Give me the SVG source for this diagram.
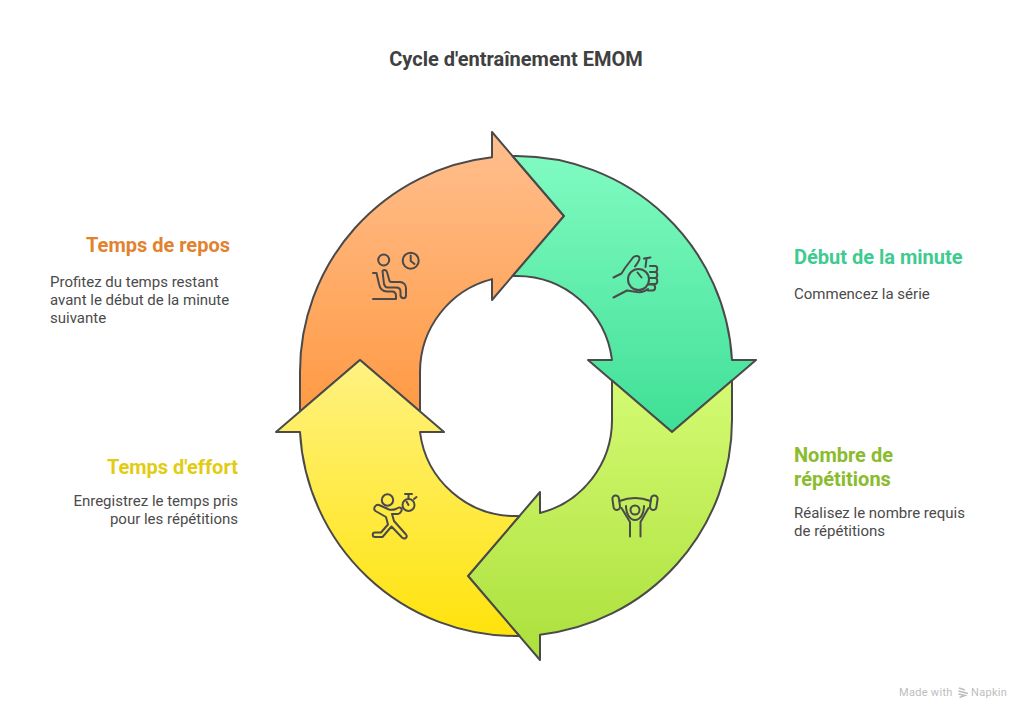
<svg xmlns="http://www.w3.org/2000/svg" width="1032" height="721" viewBox="0 0 1032 721">
<style>
text{font-family:Roboto,"Liberation Sans",sans-serif}
.t{font-size:20px;font-weight:700}
.b{font-size:15px;fill:#4b4b4b}
.s{stroke:#4a4a4a;stroke-width:2;stroke-linejoin:round}
.i{fill:none;stroke:#4a4a4a;stroke-width:2;stroke-linecap:round;stroke-linejoin:round}
.e{text-anchor:end}
</style>
<defs>
<linearGradient id="go" x1="0" y1="0" x2="0" y2="1"><stop offset="0" stop-color="#FFBF8F"/><stop offset="1" stop-color="#FF9A44"/></linearGradient>
<linearGradient id="gt" x1="0" y1="0" x2="0" y2="1"><stop offset="0" stop-color="#80FBC1"/><stop offset="1" stop-color="#3FDF96"/></linearGradient>
<linearGradient id="gl" x1="0" y1="0" x2="0" y2="1"><stop offset="0" stop-color="#D4FA72"/><stop offset="1" stop-color="#ABE03C"/></linearGradient>
<linearGradient id="gy" x1="0" y1="0" x2="0" y2="1"><stop offset="0" stop-color="#FFF282"/><stop offset="1" stop-color="#FFE30C"/></linearGradient>
</defs>
<rect width="1032" height="721" fill="#fff"/>
<text x="516" y="66" text-anchor="middle" class="t" fill="#404040">Cycle d'entraînement EMOM</text>

<g id="node-repos">
<path class="s" fill="url(#go)" d="M300 411.4V372A216 216 0 0 1 492 157.3V132L564 216L492 300V279.1A96 96 0 0 0 420 372V411.4L360 360Z"/>
<g class="i">
<circle cx="383.7" cy="260" r="5.5"/><circle cx="410.7" cy="260.7" r="8"/><path d="M410.7 255.5V261L414.5 264"/>
<path d="M373 273H376.5L379 284C380 289 383 291.500 387 291.500H392C395 291.500 396 293.500 396 296V299H373"/>
<path d="M382.500 271C384 269.500 386.500 270 387 272L389.500 281C390 282 391 282 392 282H400C403.500 282 406 285 406 288V295.500C406 299 401 299 400.500 295.500V291.500C400.500 289 399 287.500 396 287.500H388C385.500 287.500 384.500 286 384 284Z"/>
</g>
<text x="230" y="252" class="t e" fill="#E2822F">Temps de repos</text>
<text class="b" x="50" y="287">Profitez du temps restant</text>
<text class="b" x="50" y="305">avant le début de la minute</text>
<text class="b" x="50" y="323">suivante</text>
</g>

<g id="node-debut">
<path class="s" fill="url(#gt)" d="M512.600 156L564 216L512.600 276L516 276A96 96 0 0 1 612 360H588L672 432L756 360H732A216 216 0 0 0 516 156Z"/>
<g class="i">
<circle cx="638.500" cy="279.500" r="10.500"/><path d="M637.500 272.500L641.500 277.500M646.500 259L645.500 267M644 258.500L650.500 257.500"/>
<path d="M613.500 277.500L621.500 273.500L625 268L633 257.500C635 255.500 639 255.500 639.500 258C640 260 637.500 263 635 266.500"/>
<path d="M613.500 297.500L627 290.500L637 292C641 292.500 645 291.500 648 289"/>
<path d="M650 266H655C658 266 658 272 655 272H650M650 272H655C658 272 658 278 655 278H650M650 278H655C658 278 658 284 655 284H650M648 284.500H652.500C656 284.500 656 290.500 652.500 290.500H648"/>
</g>
<text x="794" y="264" class="t" fill="#3ECB8F">Début de la minute</text>
<text class="b" x="794" y="299">Commencez la série</text>
</g>

<g id="node-repetitions">
<path class="s" fill="url(#gl)" d="M612 380.600V420A96 96 0 0 1 540 513V492L468 576L540 660V634.700A216 216 0 0 0 732 420V380.600L672 432Z"/>
<g class="i">
<rect x="613" y="495.500" width="6.500" height="14.500" rx="3.200" transform="rotate(-8 616 503)"/><rect x="650.500" y="495.500" width="6.500" height="14.500" rx="3.200" transform="rotate(8 654 503)"/>
<path d="M619.500 501Q635 495 650.500 501"/><circle cx="635" cy="510" r="4.500"/>
<path d="M626 506C626 514 630 520 635 520C640 520 644 514 644 506"/>
<path d="M621.500 508L630 522V536.500M648.500 508L640.500 522V536.500"/>
</g>
<text x="794" y="462" class="t" fill="#8ABC2D">Nombre de</text>
<text x="794" y="486" class="t" fill="#8ABC2D">répétitions</text>
<text class="b" x="794" y="518">Réalisez le nombre requis</text>
<text class="b" x="794" y="536">de répétitions</text>
</g>

<g id="node-effort">
<path class="s" fill="url(#gy)" d="M276 432L360 360L444 432H420A96 96 0 0 0 516 516H519.400L468 576L519.400 636H516A216 216 0 0 1 300 432Z"/>
<g class="i">
<circle cx="387.500" cy="500" r="5.700"/><circle cx="408.500" cy="505" r="6"/>
<path d="M408.500 499V494.500M405 494H412M414 499L416.500 497M408.500 505L406.500 501.500"/>
<path d="M376 505.500C374 507 373.500 509.500 375.500 511L386 517L388 524.500L381 532.500H375C372 532.500 372 537 375 537H382.500L391.500 526.500L402 537.500C405 540 408 537 406 534.500L394 521L392 514L398 514C400 514 403 510 401 508C399.500 507 398 507.500 396 509C393 510 391 510 389 509.500L379 505C378 504.500 377 504.500 376 505.500Z"/>
</g>
<text x="238" y="474" class="t e" fill="#E2CC12">Temps d'effort</text>
<text class="b e" x="238" y="506">Enregistrez le temps pris</text>
<text class="b e" x="238" y="524">pour les répétitions</text>
</g>

<g id="watermark">
<text x="899" y="696" font-size="11" fill="#bdbdbd" letter-spacing=".3">Made with</text>
<path d="M959 688L965 690M958.500 691L968 693.500M958.500 694L965 695.500L959.500 697.500" fill="none" stroke="#bdbdbd" stroke-width="1.500"/>
<text x="971" y="696" font-size="11" fill="#bdbdbd" letter-spacing=".3">Napkin</text>
</g>
<g id="connectors"/>
</svg>
